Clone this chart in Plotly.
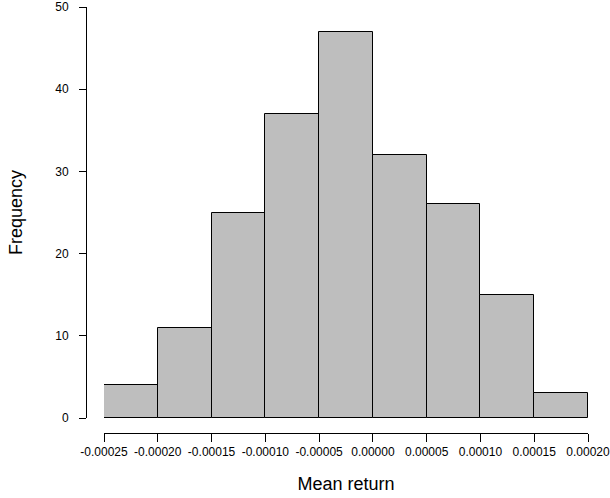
import plotly.graph_objects as go

bin_starts = [-0.00025, -0.00020, -0.00015, -0.00010, -0.00005, 0.00000, 0.00005, 0.00010, 0.00015]
bin_width = 0.00005
counts = [4, 11, 25, 37, 47, 32, 26, 15, 3]
x_tick_vals = [-0.00025, -0.00020, -0.00015, -0.00010, -0.00005, 0.00000, 0.00005, 0.00010, 0.00015, 0.00020]
x_tick_text = ["-0.00025", "-0.00020", "-0.00015", "-0.00010", "-0.00005", "0.00000", "0.00005", "0.00010", "0.00015", "0.00020"]
y_tick_vals = [0, 10, 20, 30, 40, 50]

centers = [s + bin_width / 2 for s in bin_starts]

fig = go.Figure(go.Bar(
    x=centers, y=counts, width=[bin_width] * len(counts),
    marker=dict(color="#BEBEBE", line=dict(color="black", width=1)),
    hoverinfo="skip",
))

W, H = 610, 498
ml, mr, mt, mb = 86, 22, 7, 65
pw = W - ml - mr
ph = H - mt - mb
x0 = (104 - ml) / pw
y0 = (433 - 418) / ph

font = "Liberation Sans, Arial, sans-serif"
fig.update_layout(
    width=W, height=H,
    margin=dict(l=ml, r=mr, t=mt, b=mb, pad=0, autoexpand=False),
    plot_bgcolor="white", paper_bgcolor="white",
    showlegend=False, bargap=0,
    font=dict(family=font, size=12, color="black"),
    xaxis=dict(
        domain=[x0, 1], range=[-0.00025, 0.0002], anchor="free", position=0,
        tickvals=x_tick_vals, ticktext=x_tick_text, automargin=False,
        ticklabeloverflow="allow",
        showline=True, linecolor="black", linewidth=1,
        ticks="outside", ticklen=8, tickcolor="black", tickwidth=1,
        showgrid=False, zeroline=False,
        tickfont=dict(size=12),
        title=dict(text="Mean return", font=dict(size=18), standoff=18),
    ),
    yaxis=dict(
        domain=[y0, 1], range=[0, 50], anchor="free", position=0,
        tickvals=y_tick_vals, automargin=False,
        showline=True, linecolor="black", linewidth=1,
        ticks="outside", ticklen=7, tickcolor="black", tickwidth=1,
        showgrid=False, zeroline=False,
        tickfont=dict(size=12), ticklabelstandoff=8,
        title=dict(text="Frequency", font=dict(size=18), standoff=26),
    ),
)

fig.write_html("out.html", config={"displayModeBar": False},
               post_script="document.body.style.margin='0';document.body.style.padding='0';")
